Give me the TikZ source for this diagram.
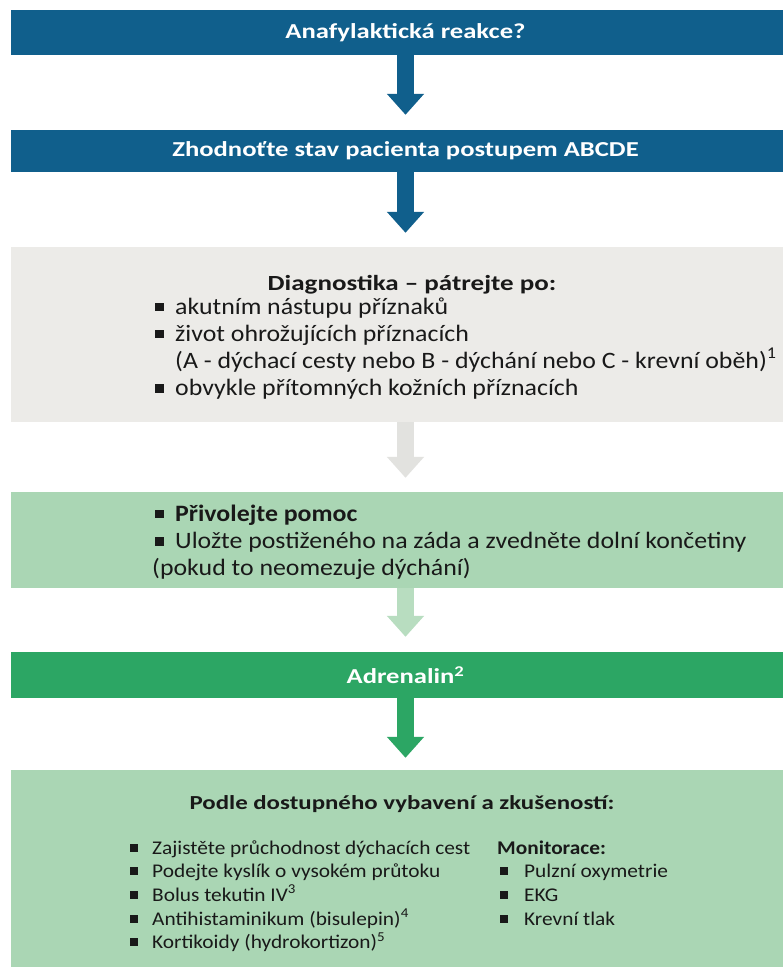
\documentclass[tikz,border=0pt]{standalone}
\usepackage{fontspec}
\setmainfont{Carlito}[FakeStretch=1.1]
\newfontfamily\bandfont{Carlito}[FakeStretch=1.25]
\usetikzlibrary{arrows.meta}
\definecolor{flowblue}{RGB}{16,95,140}
\definecolor{diaggray}{RGB}{236,235,232}
\definecolor{arrgray}{RGB}{226,226,223}
\definecolor{softgreen}{RGB}{170,214,180}
\definecolor{arrsoft}{RGB}{184,221,192}
\definecolor{flowgreen}{RGB}{44,166,100}
\definecolor{inktext}{RGB}{25,25,25}
% square bullet followed by a fixed gap
\newcommand{\sqbul}[2]{\rule[0.12em]{#1}{#1}\hspace{#2}}
\begin{document}
\begin{tikzpicture}[x=1pt,y=-1pt,
  band/.style={rectangle, inner sep=0pt, minimum width=789pt, anchor=center},
  headband/.style={band, text=white, font=\bandfont\fontsize{21.3}{24}\selectfont\bfseries},
  flowarrow/.style={line width=17pt, -{Triangle[width=36pt,length=21pt]}},
  bodyline/.style={inner sep=0pt, anchor=base west, text=inktext, font=\fontsize{23.5}{27}\selectfont},
  listline/.style={inner sep=0pt, anchor=base west, text=inktext, font=\fontsize{19.4}{23}\selectfont},
  boxtitle/.style={inner sep=0pt, anchor=base, text=inktext}
]
\useasboundingbox (0,0) rectangle (783,967);
\fill[white] (0,0) rectangle (783,967);

% boxes
\node[headband, fill=flowblue, minimum height=45pt] (q) at (405.5,32.5) {Anafylaktická reakce?};
\node[headband, fill=flowblue, minimum height=42pt] (abc) at (405.5,151) {Zhodnoťte stav pacienta postupem ABCDE};
\node[band, fill=diaggray, minimum height=175pt] (diag) at (405.5,334.5) {};
\node[band, fill=softgreen, minimum height=96pt] (help) at (405.5,540) {};
\node[headband, fill=flowgreen, minimum height=46pt] (adr) at (405.5,675) {Adrenalin\textsuperscript{2}};
\node[band, fill=softgreen, minimum height=197pt] (care) at (405.5,868.5) {};

% connectors
\draw[flowarrow, draw=flowblue, fill=flowblue, shorten >=15pt] (q.south) -- (abc.north);
\draw[flowarrow, draw=flowblue, fill=flowblue, shorten >=14pt] (abc.south) -- (diag.north);
\draw[flowarrow, draw=arrgray, fill=arrgray, shorten >=14pt] (diag.south) -- (help.north);
\draw[flowarrow, draw=arrsoft, fill=arrsoft, shorten >=15pt] (help.south) -- (adr.north);
\draw[flowarrow, draw=flowgreen, fill=flowgreen, shorten >=12pt] (adr.south) -- (care.north);

% diagnosis
\node[boxtitle, font=\bandfont\fontsize{21.6}{25}\selectfont\bfseries] (diagtitle) at (412,290) {Diagnostika – pátrejte po:};
\node[bodyline] (d1) at (155,314) {\sqbul{8.5pt}{11.5pt}akutním nástupu příznaků};
\node[bodyline] (d2) at (155,341) {\sqbul{8.5pt}{11.5pt}život ohrožujících příznacích};
\node[bodyline] (d3) at (175,368) {(A - dýchací cesty nebo B - dýchání nebo C - krevní oběh)\textsuperscript{1}};
\node[bodyline] (d4) at (155,395.5) {\sqbul{8.5pt}{11.5pt}obvykle přítomných kožních příznacích};

% first aid
\node[bodyline] (h1) at (155,521) {\sqbul{8.5pt}{11.5pt}\textbf{Přivolejte pomoc}};
\node[bodyline] (h2) at (155,548.5) {\sqbul{8.5pt}{11.5pt}Uložte postiženého na záda a zvedněte dolní končetiny};
\node[bodyline] (h3) at (152,575) {(pokud to neomezuje dýchání)};

% further care
\node[boxtitle, font=\bandfont\fontsize{19.9}{23}\selectfont\bfseries] (caretitle) at (402,809) {Podle dostupného vybavení a zkušeností:};
\node[listline] (c1) at (130,854) {\sqbul{8pt}{14pt}Zajistěte průchodnost dýchacích cest};
\node[listline] (c2) at (130,877.7) {\sqbul{8pt}{14pt}Podejte kyslík o vysokém průtoku};
\node[listline] (c3) at (130,901.4) {\sqbul{8pt}{14pt}Bolus tekutin IV\textsuperscript{3}};
\node[listline] (c4) at (130,925.1) {\sqbul{8pt}{14pt}Antihistaminikum (bisulepin)\textsuperscript{4}};
\node[listline] (c5) at (130,948.8) {\sqbul{8pt}{14pt}Kortikoidy (hydrokortizon)\textsuperscript{5}};
\node[listline] (m0) at (497,854) {\textbf{Monitorace:}};
\node[listline] (m1) at (500,877.7) {\sqbul{8pt}{16pt}Pulzní oxymetrie};
\node[listline] (m2) at (500,901.4) {\sqbul{8pt}{16pt}EKG};
\node[listline] (m3) at (500,925.1) {\sqbul{8pt}{16pt}Krevní tlak};
\end{tikzpicture}
\end{document}
